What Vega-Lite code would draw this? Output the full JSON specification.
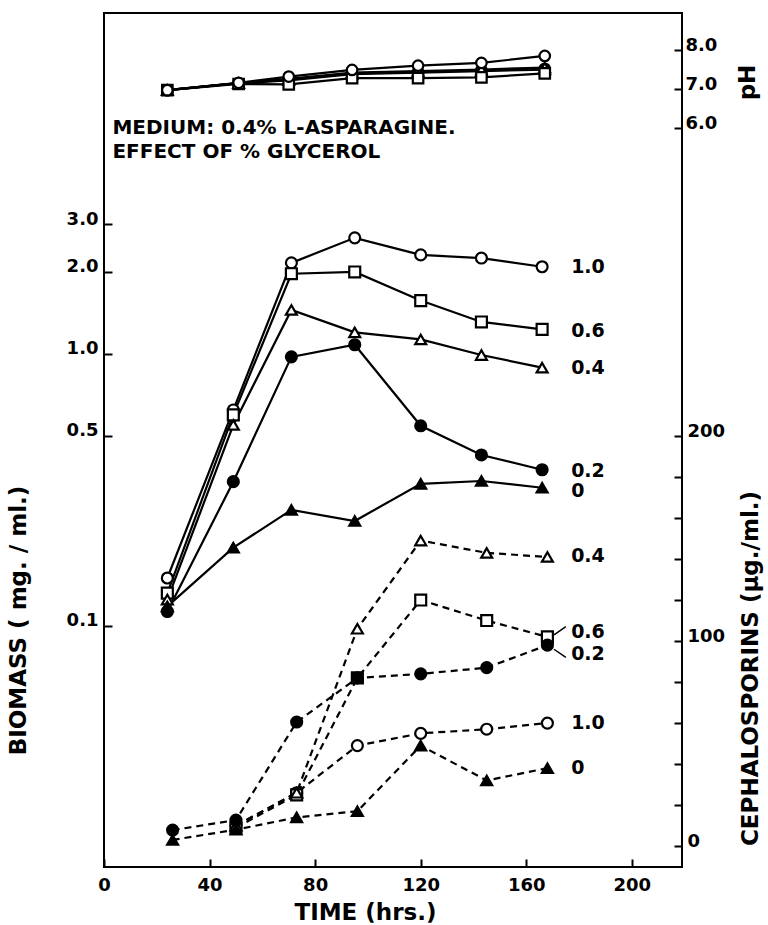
{
  "$schema": "https://vega.github.io/schema/vega-lite/v6.json",
  "width": 578,
  "height": 854,
  "autosize": {"type": "none"},
  "padding": {"left": 104, "top": 13, "right": 86, "bottom": 58},
  "background": "white",
  "config": {
    "view": {"stroke": "black", "strokeWidth": 2},
    "font": "DejaVu Sans",
    "axis": {
      "domain": false, "grid": false, "labelFlush": false,
      "tickColor": "black", "tickWidth": 2, "tickSize": -8,
      "labelFont": "DejaVu Sans", "labelFontWeight": "bold", "labelFontSize": 18, "labelColor": "black",
      "titleFont": "DejaVu Sans", "titleFontWeight": "bold", "titleFontSize": 23, "titleColor": "black"
    },
    "text": {"font": "DejaVu Sans", "fontWeight": "bold", "fontSize": 19, "color": "black"}
  },
  "datasets": {
    "bio": [
      {"g": "1.0", "t": 24, "v": 0.150}, {"g": "1.0", "t": 49, "v": 0.622}, {"g": "1.0", "t": 71, "v": 2.16}, {"g": "1.0", "t": 95, "v": 2.67}, {"g": "1.0", "t": 120, "v": 2.31}, {"g": "1.0", "t": 143, "v": 2.25}, {"g": "1.0", "t": 166, "v": 2.09},
      {"g": "0.6", "t": 24, "v": 0.132}, {"g": "0.6", "t": 49, "v": 0.597}, {"g": "0.6", "t": 71, "v": 1.97}, {"g": "0.6", "t": 95, "v": 2.0}, {"g": "0.6", "t": 120, "v": 1.57}, {"g": "0.6", "t": 143, "v": 1.31}, {"g": "0.6", "t": 166, "v": 1.23},
      {"g": "0.4", "t": 24, "v": 0.125}, {"g": "0.4", "t": 49, "v": 0.548}, {"g": "0.4", "t": 71, "v": 1.45}, {"g": "0.4", "t": 95, "v": 1.20}, {"g": "0.4", "t": 120, "v": 1.13}, {"g": "0.4", "t": 143, "v": 0.99}, {"g": "0.4", "t": 166, "v": 0.89},
      {"g": "0.2", "t": 24, "v": 0.113}, {"g": "0.2", "t": 49, "v": 0.339}, {"g": "0.2", "t": 71, "v": 0.975}, {"g": "0.2", "t": 95, "v": 1.08}, {"g": "0.2", "t": 120, "v": 0.544}, {"g": "0.2", "t": 143, "v": 0.425}, {"g": "0.2", "t": 166, "v": 0.375},
      {"g": "0", "t": 24, "v": 0.118}, {"g": "0", "t": 49, "v": 0.194}, {"g": "0", "t": 71, "v": 0.267}, {"g": "0", "t": 95, "v": 0.243}, {"g": "0", "t": 120, "v": 0.333}, {"g": "0", "t": 143, "v": 0.341}, {"g": "0", "t": 166, "v": 0.322}
    ],
    "bioLab": [
      {"t": 177, "v": 2.09, "lab": "1.0"}, {"t": 177, "v": 1.21, "lab": "0.6"}, {"t": 177, "v": 0.89, "lab": "0.4"}, {"t": 177, "v": 0.372, "lab": "0.2"}, {"t": 177, "v": 0.313, "lab": "0"}
    ],
    "ceph": [
      {"g": "1.0", "t": 50, "v": 10}, {"g": "1.0", "t": 73, "v": 26}, {"g": "1.0", "t": 96, "v": 49}, {"g": "1.0", "t": 120, "v": 55}, {"g": "1.0", "t": 145, "v": 57}, {"g": "1.0", "t": 168, "v": 60},
      {"g": "0.6", "t": 50, "v": 9}, {"g": "0.6", "t": 73, "v": 25}, {"g": "0.6", "t": 96, "v": 82}, {"g": "0.6", "t": 120, "v": 120}, {"g": "0.6", "t": 145, "v": 110}, {"g": "0.6", "t": 168, "v": 102},
      {"g": "0.4", "t": 50, "v": 10}, {"g": "0.4", "t": 73, "v": 26}, {"g": "0.4", "t": 96, "v": 106}, {"g": "0.4", "t": 120, "v": 149}, {"g": "0.4", "t": 145, "v": 143}, {"g": "0.4", "t": 168, "v": 141},
      {"g": "0.2", "t": 26, "v": 7.8}, {"g": "0.2", "t": 50, "v": 12.7}, {"g": "0.2", "t": 73, "v": 60.5}, {"g": "0.2", "t": 96, "v": 82}, {"g": "0.2", "t": 120, "v": 84}, {"g": "0.2", "t": 145, "v": 87}, {"g": "0.2", "t": 168, "v": 98},
      {"g": "0", "t": 26, "v": 3}, {"g": "0", "t": 50, "v": 8}, {"g": "0", "t": 73, "v": 14}, {"g": "0", "t": 96, "v": 17}, {"g": "0", "t": 120, "v": 49}, {"g": "0", "t": 145, "v": 32}, {"g": "0", "t": 168, "v": 38}
    ],
    "cephLab": [
      {"t": 177, "v": 141.5, "lab": "0.4"}, {"t": 177, "v": 104.5, "lab": "0.6"}, {"t": 177, "v": 93.5, "lab": "0.2"}, {"t": 177, "v": 60, "lab": "1.0"}, {"t": 177, "v": 38, "lab": "0"}
    ],
    "leaders": [
      {"t": 170.5, "v": 103, "t2": 175, "v2": 107},
      {"t": 170.5, "v": 96, "t2": 175, "v2": 92}
    ],
    "ph": [
      {"g": "0", "t": 24, "v": 6.97}, {"g": "0", "t": 51, "v": 7.15}, {"g": "0", "t": 70, "v": 7.22}, {"g": "0", "t": 94, "v": 7.38}, {"g": "0", "t": 119, "v": 7.42}, {"g": "0", "t": 143, "v": 7.46}, {"g": "0", "t": 167, "v": 7.5},
      {"g": "0.2", "t": 24, "v": 6.97}, {"g": "0.2", "t": 51, "v": 7.15}, {"g": "0.2", "t": 70, "v": 7.24}, {"g": "0.2", "t": 94, "v": 7.4}, {"g": "0.2", "t": 119, "v": 7.44}, {"g": "0.2", "t": 143, "v": 7.48}, {"g": "0.2", "t": 167, "v": 7.52},
      {"g": "0.4", "t": 24, "v": 6.97}, {"g": "0.4", "t": 51, "v": 7.15}, {"g": "0.4", "t": 70, "v": 7.26}, {"g": "0.4", "t": 94, "v": 7.42}, {"g": "0.4", "t": 119, "v": 7.46}, {"g": "0.4", "t": 143, "v": 7.5}, {"g": "0.4", "t": 167, "v": 7.55},
      {"g": "0.6", "t": 24, "v": 6.97}, {"g": "0.6", "t": 51, "v": 7.13}, {"g": "0.6", "t": 70, "v": 7.12}, {"g": "0.6", "t": 94, "v": 7.28}, {"g": "0.6", "t": 119, "v": 7.28}, {"g": "0.6", "t": 143, "v": 7.3}, {"g": "0.6", "t": 167, "v": 7.4},
      {"g": "1.0", "t": 24, "v": 6.97}, {"g": "1.0", "t": 51, "v": 7.16}, {"g": "1.0", "t": 70, "v": 7.32}, {"g": "1.0", "t": 94, "v": 7.49}, {"g": "1.0", "t": 119, "v": 7.6}, {"g": "1.0", "t": 143, "v": 7.67}, {"g": "1.0", "t": 167, "v": 7.85}
    ],
    "note": [
      {"t": 3.2, "v": 6.0, "lab": "MEDIUM: 0.4% L-ASPARAGINE."},
      {"t": 3.2, "v": 5.38, "lab": "EFFECT OF % GLYCEROL"}
    ]
  },
  "encoding": {
    "x": {
      "field": "t", "type": "quantitative",
      "scale": {"domain": [0, 219], "nice": false, "zero": false},
      "axis": {
        "title": "TIME  (hrs.)", "values": [0, 40, 80, 120, 160, 200],
        "labelPadding": 17, "titleX": 261, "titleY": 45, "titleBaseline": "middle", "titleAlign": "center"
      }
    }
  },
  "layer": [
    {
      "encoding": {
        "y": {
          "field": "v", "type": "quantitative",
          "scale": {"type": "log", "domain": [0.0130, 17.9], "nice": false},
          "axis": {
            "orient": "left", "title": "BIOMASS ( mg. / ml.)", "values": [0.1, 0.5, 1, 2, 3], "format": ".1f",
            "labelPadding": 14, "labelBaseline": "alphabetic",
            "titleX": -86, "titleY": 607, "titleAngle": -90, "titleBaseline": "middle", "titleAlign": "center"
          }
        }
      },
      "layer": [
        {"data": {"name": "bio"}, "mark": {"type": "line", "color": "black", "strokeWidth": 2.2}, "encoding": {"detail": {"field": "g"}}},
        {
          "data": {"name": "bio"},
          "mark": {"type": "point", "filled": true, "size": 120, "stroke": "black", "strokeWidth": 2.2, "opacity": 1},
          "encoding": {
            "shape": {"field": "g", "type": "nominal", "scale": {"domain": ["1.0", "0.6", "0.4", "0.2", "0"], "range": ["circle", "square", "triangle-up", "circle", "triangle-up"]}, "legend": null},
            "fill": {"field": "g", "type": "nominal", "scale": {"domain": ["1.0", "0.6", "0.4", "0.2", "0"], "range": ["white", "white", "white", "black", "black"]}, "legend": null}
          }
        },
        {"data": {"name": "bioLab"}, "mark": {"type": "text", "align": "left", "baseline": "middle"}, "encoding": {"text": {"field": "lab"}}}
      ]
    },
    {
      "encoding": {
        "y": {
          "field": "v", "type": "quantitative",
          "scale": {"domain": [-10.2, 406.3], "nice": false, "zero": false},
          "axis": {
            "orient": "right", "title": "CEPHALOSPORINS (µg./ml.)",
            "values": [0, 20, 40, 60, 80, 100, 120, 140, 160, 180, 200],
            "labelExpr": "datum.value % 100 === 0 ? datum.label : ''",
            "labelPadding": 13, "labelBaseline": "alphabetic",
            "titleX": 68, "titleY": 655, "titleAngle": -90, "titleBaseline": "middle", "titleAlign": "center"
          }
        }
      },
      "layer": [
        {"data": {"name": "ceph"}, "mark": {"type": "line", "color": "black", "strokeWidth": 2.2, "strokeDash": [7, 5]}, "encoding": {"detail": {"field": "g"}}},
        {
          "data": {"name": "ceph"},
          "mark": {"type": "point", "filled": true, "size": 120, "stroke": "black", "strokeWidth": 2.2, "opacity": 1},
          "encoding": {
            "shape": {"field": "g", "type": "nominal", "scale": {"domain": ["1.0", "0.6", "0.4", "0.2", "0"], "range": ["circle", "square", "triangle-up", "circle", "triangle-up"]}, "legend": null},
            "fill": {"field": "g", "type": "nominal", "scale": {"domain": ["1.0", "0.6", "0.4", "0.2", "0"], "range": ["white", "white", "white", "black", "black"]}, "legend": null}
          }
        },
        {"data": {"name": "leaders"}, "mark": {"type": "rule", "color": "black", "strokeWidth": 1.5}, "encoding": {"x2": {"field": "t2"}, "y2": {"field": "v2"}}},
        {"data": {"name": "cephLab"}, "mark": {"type": "text", "align": "left", "baseline": "middle"}, "encoding": {"text": {"field": "lab"}}}
      ]
    },
    {
      "encoding": {
        "y": {
          "field": "v", "type": "quantitative",
          "scale": {"domain": [-12.95, 8.95], "nice": false, "zero": false},
          "axis": {
            "orient": "right", "title": "pH", "values": [6, 7, 8], "format": ".1f",
            "labelPadding": 11, "labelBaseline": "alphabetic",
            "titleX": 65, "titleY": 69, "titleAngle": -90, "titleBaseline": "middle", "titleAlign": "center"
          }
        }
      },
      "layer": [
        {"data": {"name": "ph"}, "mark": {"type": "line", "color": "black", "strokeWidth": 2.2}, "encoding": {"detail": {"field": "g"}}},
        {
          "data": {"name": "ph"},
          "mark": {"type": "point", "filled": true, "size": 110, "stroke": "black", "strokeWidth": 2.2, "opacity": 1},
          "encoding": {
            "shape": {"field": "g", "type": "nominal", "scale": {"domain": ["1.0", "0.6", "0.4", "0.2", "0"], "range": ["circle", "square", "triangle-up", "circle", "triangle-up"]}, "legend": null},
            "fill": {"field": "g", "type": "nominal", "scale": {"domain": ["1.0", "0.6", "0.4", "0.2", "0"], "range": ["white", "white", "white", "black", "black"]}, "legend": null}
          }
        },
        {"data": {"name": "note"}, "mark": {"type": "text", "align": "left", "baseline": "middle", "fontSize": 20}, "encoding": {"text": {"field": "lab"}}}
      ]
    }
  ],
  "resolve": {"scale": {"y": "independent"}, "axis": {"y": "independent"}}
}
